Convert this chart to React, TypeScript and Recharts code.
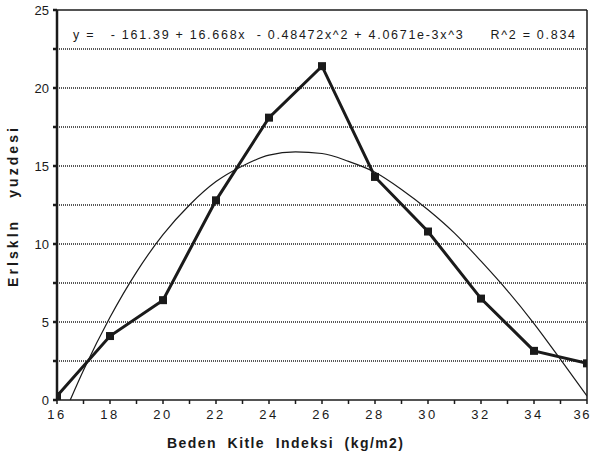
import { Line, LineChart, ReferenceLine, XAxis, YAxis } from "recharts";

// observed points (BMI vs % of adults)
const bmi = [16, 18, 20, 22, 24, 26, 28, 30, 32, 34, 36];
const pct = [0.25, 4.1, 6.4, 12.8, 18.1, 21.4, 14.3, 10.8, 6.5, 3.15, 2.35];

// cubic fit curve
const fitX = [16.5, 17, 18, 19, 20, 21, 22, 23, 24, 25, 26, 27, 28, 29, 30, 31, 32, 33, 34, 35, 36];
const fitY = [0, 1.9, 5.3, 8.2, 10.6, 12.5, 14.0, 15.0, 15.7, 15.9, 15.8, 15.3, 14.6, 13.5, 12.2, 10.7, 8.9, 7.0, 4.9, 2.6, 0.25];

const xTicks = [16, 17, 18, 19, 20, 21, 22, 23, 24, 25, 26, 27, 28, 29, 30, 31, 32, 33, 34, 35, 36];
const yTicks = [0, 2.5, 5, 7.5, 10, 12.5, 15, 17.5, 20, 22.5, 25];
const gridLines = [2.5, 5, 7.5, 10, 12.5, 15, 17.5, 20, 22.5];

const equation = "y =   - 161.39 + 16.668x  - 0.48472x^2 + 4.0671e-3x^3     R^2 = 0.834";
const xTitle = "Beden  Kitle  Indeksi  (kg/m2)";
const yTitle = "Erlskln   yuzdesi";

const observed = bmi.map((x, i) => ({ x, y: pct[i] }));
const fit = fitX.map((x, i) => ({ x, y: fitY[i] }));

const FONT = "'Liberation Sans', Arial, sans-serif";
const INK = "#1a1a1a";

function XTick(props: any) {
  const { x, y, payload } = props;
  if (payload.value % 2 !== 0) return null;
  // last label sits on the page edge; nudge it in so it isn't clipped
  const last = payload.value === 36;
  return (
    <text
      x={last ? x + 4 : x}
      y={y + 13}
      textAnchor={last ? "end" : "middle"}
      fontFamily={FONT}
      fontSize={13}
      fill={INK}
      letterSpacing={last ? 1.5 : 2.5}
    >
      {payload.value}
    </text>
  );
}

function YTick(props: any) {
  const { x, y, payload } = props;
  if (payload.value % 5 !== 0) return null;
  return (
    <text x={x - 2} y={y + 5} textAnchor="end" fontFamily={FONT} fontSize={13} fill={INK}>
      {payload.value}
    </text>
  );
}

function SquareDot(props: any) {
  const { cx, cy } = props;
  if (cx == null || cy == null) return null;
  return <rect x={cx - 4} y={cy - 4} width={8} height={8} fill={INK} />;
}

export default function App() {
  return (
    <div style={{ position: "absolute", left: 0, top: 0, width: 592, height: 457, background: "#fff" }}>
      <LineChart width={592} height={457} margin={{ top: 10, right: 5, left: 0, bottom: 0 }}>
        {gridLines.map((g) => (
          <ReferenceLine key={g} y={g} stroke="#222" strokeWidth={1.6} strokeDasharray="1 1" />
        ))}
        <ReferenceLine y={25} stroke={INK} strokeWidth={1.5} />
        <ReferenceLine x={36} stroke={INK} strokeWidth={1.5} />
        <XAxis
          type="number"
          dataKey="x"
          domain={[16, 36]}
          ticks={xTicks}
          interval={0}
          height={57}
          stroke={INK}
          strokeWidth={1.5}
          tickSize={4}
          tick={<XTick />}
          allowDataOverflow
        />
        <YAxis
          type="number"
          dataKey="y"
          domain={[0, 25]}
          ticks={yTicks}
          interval={0}
          width={57}
          stroke={INK}
          strokeWidth={2.5}
          tickSize={4}
          tick={<YTick />}
          allowDataOverflow
        />
        <Line
          data={fit}
          dataKey="y"
          type="monotone"
          stroke={INK}
          strokeWidth={1.2}
          dot={false}
          isAnimationActive={false}
        />
        <Line
          data={observed}
          dataKey="y"
          type="linear"
          stroke={INK}
          strokeWidth={3}
          dot={<SquareDot />}
          isAnimationActive={false}
        />
      </LineChart>
      <svg width={592} height={457} style={{ position: "absolute", left: 0, top: 0, pointerEvents: "none" }}>
        <text
          x={73}
          y={39}
          fontFamily={FONT}
          fontSize={12.5}
          fill={INK}
          textLength={502}
          lengthAdjust="spacing"
          style={{ whiteSpace: "pre" }}
        >
          {equation}
        </text>
        <text
          x={167}
          y={448}
          fontFamily={FONT}
          fontSize={14}
          fontWeight="bold"
          fill={INK}
          textLength={236}
          lengthAdjust="spacing"
          style={{ whiteSpace: "pre" }}
        >
          {xTitle}
        </text>
        <text
          x={0}
          y={0}
          transform="translate(18 287) rotate(-90)"
          fontFamily={FONT}
          fontSize={14}
          fontWeight="bold"
          fill={INK}
          textLength={159}
          lengthAdjust="spacing"
          style={{ whiteSpace: "pre" }}
        >
          {yTitle}
        </text>
      </svg>
    </div>
  );
}
